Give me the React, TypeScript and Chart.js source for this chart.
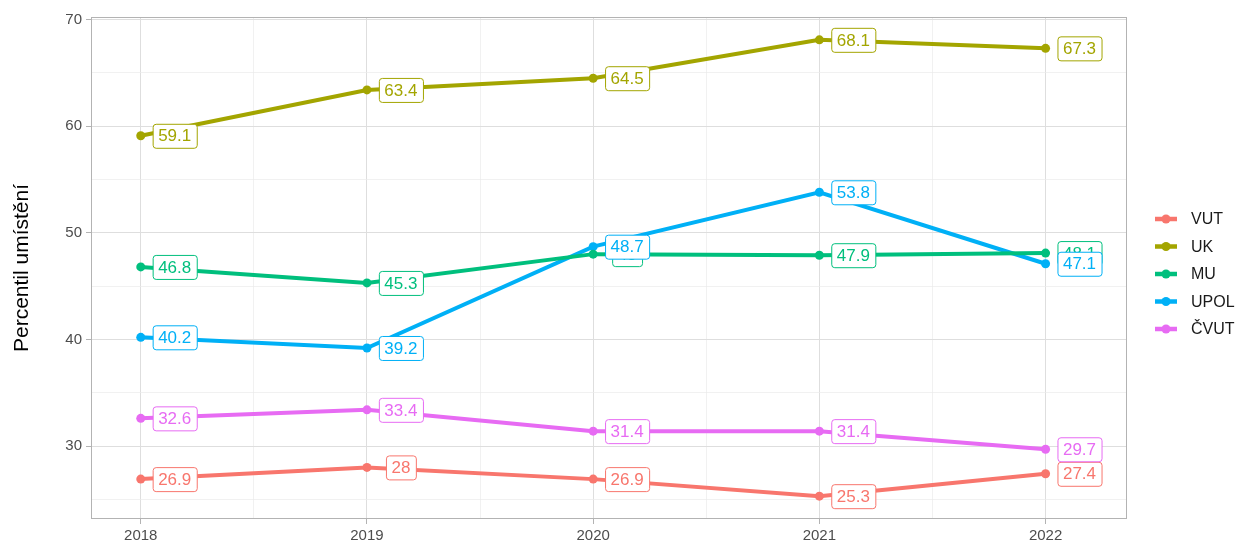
import React, { useEffect, useRef } from "react";
import { Chart, registerables } from "chart.js";

Chart.register(...registerables);

const years = [2018, 2019, 2020, 2021, 2022];
const seriesNames = ["VUT", "UK", "MU", "UPOL", "ČVUT"];
const seriesColors = ["#F8766D", "#A3A500", "#00BF7D", "#00B0F6", "#E76BF3"];
const vut = [26.9, 28, 26.9, 25.3, 27.4];
const uk = [59.1, 63.4, 64.5, 68.1, 67.3];
const mu = [46.8, 45.3, 48.0, 47.9, 48.1];
const upol = [40.2, 39.2, 48.7, 53.8, 47.1];
const cvut = [32.6, 33.4, 31.4, 31.4, 29.7];
const seriesValues = [vut, uk, mu, upol, cvut];
const yTickValues = [25, 30, 35, 40, 45, 50, 55, 60, 65, 70];
const xTickValues = [2018, 2018.5, 2019, 2019.5, 2020, 2020.5, 2021, 2021.5, 2022];
const yTitle = "Percentil umístění";

const FONT = "'Liberation Sans', Arial, sans-serif";
const W = 1238;
const H = 542;

const labelPlugin = {
  id: "pointLabels",
  beforeDatasetsDraw(chart: any) {
    const { ctx, chartArea } = chart;
    ctx.save();
    ctx.strokeStyle = "#B3B3B3";
    ctx.lineWidth = 1;
    ctx.strokeRect(chartArea.left + 0.5, chartArea.top + 0.5, chartArea.right - chartArea.left - 1, chartArea.bottom - chartArea.top - 1);
    ctx.restore();
  },
  afterDatasetsDraw(chart: any) {
    const { ctx } = chart;
    const xs = chart.scales.x;
    const ys = chart.scales.y;
    ctx.save();
    ctx.font = `17px ${FONT}`;
    ctx.textAlign = "center";
    ctx.textBaseline = "middle";
    chart.data.datasets.forEach((ds: any, i: number) => {
      ds.data.forEach((p: any) => {
        const txt = String(p.y);
        const cx = xs.getPixelForValue(p.x + 0.15);
        const cy = ys.getPixelForValue(p.y);
        const tw = ctx.measureText(txt).width;
        const bw = tw + 11;
        const bh = 24;
        const bx = cx - bw / 2;
        const by = cy - bh / 2;
        ctx.beginPath();
        ctx.roundRect(bx + 0.5, by + 0.5, bw, bh, 3);
        ctx.fillStyle = "#FFFFFF";
        ctx.fill();
        ctx.strokeStyle = seriesColors[i];
        ctx.lineWidth = 1;
        ctx.stroke();
        ctx.fillStyle = seriesColors[i];
        ctx.fillText(txt, cx, cy + 1);
      });
    });
    ctx.restore();
  },
  afterDraw(chart: any) {
    const { ctx } = chart;
    ctx.save();
    const startY = 219;
    const step = 27.5;
    seriesNames.forEach((name, i) => {
      const y = startY + i * step;
      ctx.strokeStyle = seriesColors[i];
      ctx.lineWidth = 4.5;
      ctx.beginPath();
      ctx.moveTo(1155, y);
      ctx.lineTo(1177, y);
      ctx.stroke();
      ctx.fillStyle = seriesColors[i];
      ctx.beginPath();
      ctx.arc(1166, y, 4.5, 0, Math.PI * 2);
      ctx.fill();
      ctx.fillStyle = "#1A1A1A";
      ctx.font = `16px ${FONT}`;
      ctx.textAlign = "left";
      ctx.textBaseline = "middle";
      ctx.fillText(name, 1191, y + 1);
    });
    ctx.restore();
  },
};

export default function App() {
  const ref = useRef<HTMLCanvasElement | null>(null);
  useEffect(() => {
    if (!ref.current) return;
    const chart = new Chart(ref.current, {
      type: "line",
      data: {
        datasets: seriesNames.map((name, i) => ({
          label: name,
          data: years.map((yr, j) => ({ x: yr, y: seriesValues[i][j] })),
          borderColor: seriesColors[i],
          backgroundColor: seriesColors[i],
          borderWidth: 4,
          pointRadius: 4.5,
          pointBorderWidth: 0,
          tension: 0,
        })),
      },
      plugins: [labelPlugin],
      options: {
        animation: false,
        responsive: false,
        maintainAspectRatio: false,
        layout: { padding: { left: 0, right: W - 1127, top: 17, bottom: 0 } },
        plugins: { legend: { display: false }, tooltip: { enabled: false } },
        scales: {
          x: {
            type: "linear",
            min: 2017.78,
            max: 2022.36,
            afterBuildTicks: (s: any) => {
              s.ticks = xTickValues.map((v) => ({ value: v }));
            },
            afterFit: (s: any) => {
              s.height = H - 519;
            },
            ticks: {
              autoSkip: false,
              maxRotation: 0,
              padding: 3,
              color: "#4D4D4D",
              font: { family: FONT, size: 15 },
              callback: (v: any) => (Number.isInteger(v) ? String(v) : ""),
            },
            grid: {
              color: (c: any) => (c.tick && Number.isInteger(c.tick.value) ? "#DEDEDE" : "#EBEBEB"),
              lineWidth: (c: any) => (c.tick && Number.isInteger(c.tick.value) ? 1 : 0.7),
              tickColor: (c: any) => (c.tick && Number.isInteger(c.tick.value) ? "#B3B3B3" : "rgba(0,0,0,0)"),
              tickLength: 5,
            },
            border: { display: false },
          },
          y: {
            type: "linear",
            min: 23.16,
            max: 70.24,
            afterBuildTicks: (s: any) => {
              s.ticks = yTickValues.map((v) => ({ value: v }));
            },
            afterFit: (s: any) => {
              s.width = 91;
            },
            title: {
              display: true,
              text: yTitle,
              color: "#000000",
              font: { family: FONT, size: 21 },
              padding: { top: 10, bottom: 0 },
            },
            ticks: {
              padding: 4,
              color: "#4D4D4D",
              font: { family: FONT, size: 15 },
              callback: (v: any) => (v % 10 === 0 ? String(v) : ""),
            },
            grid: {
              color: (c: any) => (c.tick && c.tick.value % 10 === 0 ? "#DEDEDE" : "#EBEBEB"),
              lineWidth: (c: any) => (c.tick && c.tick.value % 10 === 0 ? 1 : 0.7),
              tickColor: (c: any) => (c.tick && c.tick.value % 10 === 0 ? "#B3B3B3" : "rgba(0,0,0,0)"),
              tickLength: 5,
            },
            border: { display: false },
          },
        },
      } as any,
    });
    return () => chart.destroy();
  }, []);
  return (
    <div style={{ position: "fixed", left: 0, top: 0, width: W, height: H, background: "#fff" }}>
      <canvas ref={ref} width={W} height={H} style={{ width: W, height: H, display: "block" }} />
    </div>
  );
}
